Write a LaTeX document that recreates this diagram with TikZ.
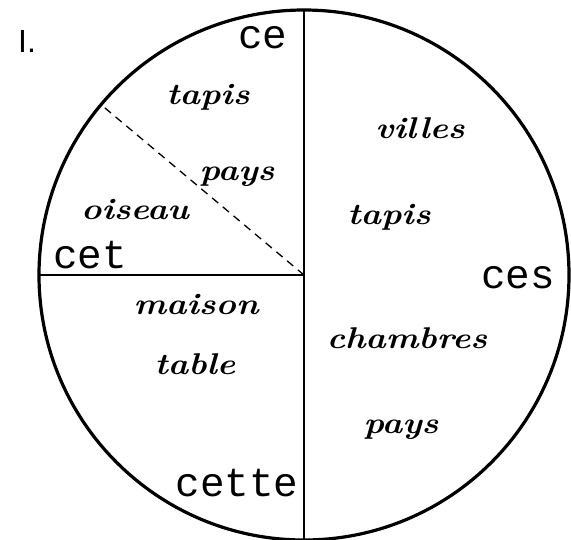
\documentclass[tikz,border=0pt]{standalone}
\usepackage{fontspec}
\usepackage{graphicx}
\usetikzlibrary{calc}
\newfontfamily\labelfont{Liberation Mono}
\newfontfamily\numfont{Liberation Sans}
\newcommand{\hw}[1]{\scalebox{1.15}[1]{\bfseries\itshape #1}}
\tikzset{
    art/.style={font=\labelfont\fontsize{41}{41}\selectfont, inner sep=0pt},
    word/.style={font=\fontsize{30}{30}\selectfont, inner sep=0pt},
}
\begin{document}
\begin{tikzpicture}[x=1pt,y=-1pt]
        \useasboundingbox (0,0) rectangle (571,539);
        \coordinate (O) at (304,275);
        \coordinate (top) at (304,10);
        \coordinate (bot) at (304,540);
        \coordinate (lft) at (39,275);
        \coordinate (dsh) at ($(O)+(140:265pt)$);
        \draw [line width=3.2pt] (O) circle (265pt);
        \draw [line width=1.5pt] (top) -- (bot);
        \draw [line width=1.5pt] (lft) -- (O);
        \draw [line width=1.3pt, dash pattern=on 8pt off 6pt] (O) -- (dsh);
        \path (27,41) node (num) [font=\numfont\fontsize{32}{32}\selectfont] {I.};
        \path (263,38) node (ce) [art] {ce};
        \path (90,255) node (cet) [art] {cet};
        \path (518,278) node (ces) [art] {ces};
        \path (237,483) node (cette) [art] {cette};
        % masculin singulier
        \path (208,97) node (tapisA) [word] {\hw{tapis}};
        \path (237,177) node (paysA) [word] {\hw{pays}};
        \path (135,210) node (oiseau) [word] {\hw{oiseau}};
        % feminin singulier
        \path (196,305) node (maison) [word] {\hw{maison}};
        \path (195,364) node (table) [word] {\hw{table}};
        % pluriel
        \path (420,128) node (villes) [word] {\hw{villes}};
        \path (389,217) node (tapisB) [word] {\hw{tapis}};
        \path (407,338) node (chambres) [word] {\hw{chambres}};
        \path (401,430) node (paysB) [word] {\hw{pays}};
    \end{tikzpicture}
\end{document}
